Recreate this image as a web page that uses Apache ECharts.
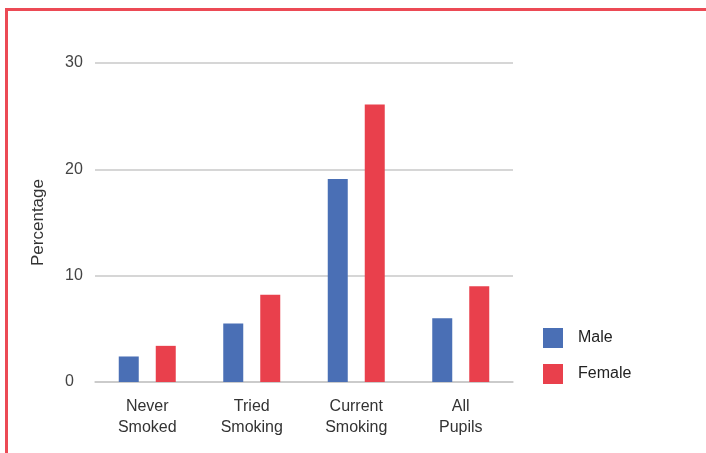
<!DOCTYPE html>
<html>
<head>
<meta charset="utf-8">
<script src="https://cdn.jsdelivr.net/npm/echarts@6/dist/echarts.min.js"></script>
<style>
html,body{margin:0;padding:0;background:#fff;}
#frame{position:absolute;left:5px;top:8px;width:720px;height:460px;border-left:3px solid #ec4a55;border-top:3px solid #ec4a55;box-sizing:border-box;}
#chart{position:absolute;left:0;top:0;width:706px;height:453px;}
</style>
</head>
<body>
<div id="frame"></div>
<div id="chart"></div>
<script>
const categories = ['Never\nSmoked', 'Tried\nSmoking', 'Current\nSmoking', 'All\nPupils'];
const maleValues = [2.4, 5.5, 19.1, 6.0];
const femaleValues = [3.4, 8.2, 26.1, 9.0];
const yTicks = [0, 10, 20, 30];

const chart = echarts.init(document.getElementById('chart'), null, {renderer: 'canvas'});
const font = '"Liberation Sans", Helvetica, Arial, sans-serif';
chart.setOption({
  backgroundColor: 'transparent',
  animation: false,
  textStyle: {fontFamily: font},
  grid: {left: 95, right: 193, top: 63, bottom: 71, containLabel: false},
  legend: {
    orient: 'vertical', left: 538, top: 323,
    itemWidth: 20, itemHeight: 20, itemGap: 16,
    icon: 'rect',
    textStyle: {fontSize: 16, color: '#222', fontFamily: font, padding: [4, 0, 0, 10]},
    data: ['Male', 'Female']
  },
  xAxis: {
    type: 'category',
    data: categories,
    axisLine: {show: true, lineStyle: {color: '#c8c8c8', width: 1.5}},
    axisTick: {show: false},
    axisLabel: {fontSize: 16, color: '#333', lineHeight: 21, margin: 14, fontFamily: font}
  },
  yAxis: {
    type: 'value',
    min: yTicks[0], max: yTicks[yTicks.length - 1], interval: 10,
    name: 'Percentage',
    nameLocation: 'middle', nameRotate: 90, nameGap: 48,
    nameTextStyle: {fontSize: 17, color: '#333', fontFamily: font},
    axisLine: {show: false},
    axisTick: {show: false},
    axisLabel: {fontSize: 16, color: '#444', align: 'left', margin: 30, padding: [0, 0, 14, 0], fontFamily: font},
    splitLine: {lineStyle: {color: '#c8c8c8', width: 1.5}}
  },
  series: [
    {name: 'Male', type: 'bar', data: maleValues, barWidth: 20, barGap: '85%',
     itemStyle: {color: '#4a6fb5'}},
    {name: 'Female', type: 'bar', data: femaleValues, barWidth: 20,
     itemStyle: {color: '#e9404c'}}
  ]
});
</script>
</body>
</html>
